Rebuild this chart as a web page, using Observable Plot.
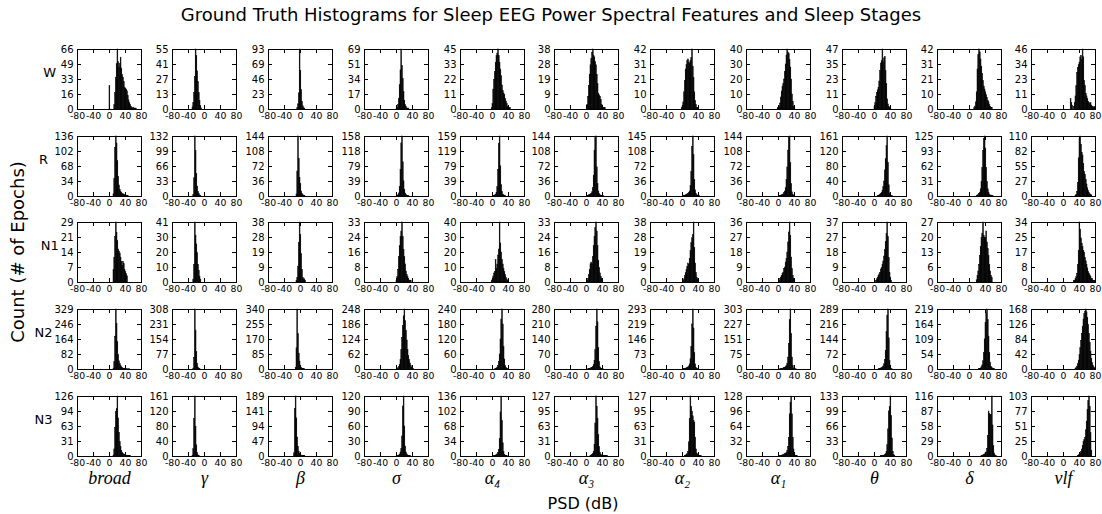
<!DOCTYPE html>
<html><head><meta charset="utf-8">
<script src="https://cdn.jsdelivr.net/npm/d3@7"></script>
<script src="https://cdn.jsdelivr.net/npm/@observablehq/plot@0.6"></script>
<style>
html,body{margin:0;padding:0;background:#fff;}
#chart{position:relative;width:1102px;height:514px;overflow:hidden;font-family:"DejaVu Sans",sans-serif;background:#fff;}
</style></head><body><div id="chart"></div>
<script>
// ---------- data ----------
const titleText = "Ground Truth Histograms for Sleep EEG Power Spectral Features and Sleep Stages";
const xLabel = "PSD (dB)";
const yLabel = "Count (# of Epochs)";
const stages = ["W", "R", "N1", "N2", "N3"];
const features = ["broad", "γ", "β", "σ", "α₄", "α₃", "α₂", "α₁", "θ", "δ", "vlf"];
const xTicks = [-80, -40, 0, 40, 80];
const binWidth = 2;

// peak counts (top y tick label) per feature
const maxW  = [66, 55, 93, 69, 45, 38, 42, 40, 47, 42, 46];
const maxR  = [136, 132, 144, 158, 159, 144, 145, 144, 161, 125, 110];
const maxN1 = [29, 41, 38, 33, 40, 33, 38, 36, 37, 27, 34];
const maxN2 = [329, 308, 340, 248, 240, 280, 293, 303, 289, 219, 168];
const maxN3 = [126, 161, 189, 120, 136, 127, 127, 128, 133, 116, 103];

// first bin edge (dB) per feature
const startW  = [0, -30, -8, 0, -2, 2, -2, -2, 0, 12, 18];
const startR  = [10, -28, -10, 2, 2, 2, 2, 2, 8, 18, 30];
const startN1 = [10, -28, -10, 0, -2, 2, 2, 2, 4, 18, 26];
const startN2 = [10, -28, -12, 2, 6, 4, 2, 4, 10, 24, 30];
const startN3 = [10, -30, -16, 4, 4, 10, 6, 4, 16, 30, 36];

// bin counts (2 dB bins) per feature
const countsW = [
  [26,0,0,0,0,0,5,18,35,50,66,52,46,50,57,45,38,35,30,24,23,22,20,15,10,7,5,3,2,1,2,1,1,1],
  [2,6,15,30,55,49,35,25,15,8,3,1],
  [2,8,25,93,60,30,12,5,2,1],
  [1,2,5,12,28,45,69,50,35,20,10,5,3,1,1,1],
  [1,4,15,22,28,35,40,42,45,40,35,30,25,18,14,12,11,8,6,4,2,1,1,1],
  [3,8,15,22,28,32,36,38,34,33,30,28,22,16,10,9,8,6,3,2,1,1,1],
  [1,2,5,12,20,28,31,34,35,33,32,34,36,42,30,22,12,6,3,1,1,1],
  [1,1,2,4,8,12,15,17,20,25,30,36,40,38,37,33,28,20,10,5,2,1],
  [2,5,10,13,15,17,22,30,36,38,47,37,40,41,30,20,8,4,2,1,1],
  [1,2,5,12,28,38,42,40,35,30,25,20,16,14,12,10,8,6,5,3,2,1,1],
  [8,5,3,0,2,5,10,18,28,32,34,36,40,41,38,46,40,22,18,12,10,8,6,5,4,5,3,2,2,1,2]
];
const countsR = [
  [5,40,110,136,120,80,45,25,15,10,8,6,5,4,3,2,2,1,1],
  [3,40,132,100,50,22,10,5,2,1],
  [5,60,144,90,45,30,12,6,3,2,1],
  [1,3,8,25,70,140,158,90,40,18,8,4,2,1,1],
  [1,2,3,5,10,25,70,140,159,80,30,12,5,3,2,1],
  [1,2,3,4,5,6,10,20,50,110,140,144,70,30,12,6,3,2,1,1,1],
  [1,1,2,3,4,5,6,8,12,25,60,120,145,100,40,15,6,3,2,1,1],
  [1,1,2,3,4,5,8,12,20,40,70,110,140,144,80,30,10,4,2,1],
  [1,2,3,5,7,10,15,25,40,70,100,135,161,90,30,8,3,1,1],
  [1,2,3,5,8,15,30,60,95,120,125,100,60,30,15,8,4,2,2,1,1],
  [1,3,8,25,70,105,110,95,80,75,60,45,40,30,22,15,10,6,4,3,2]
];
const countsN1 = [
  [6,12,22,29,24,20,16,15,14,12,10,8,10,9,6,5,4,3],
  [2,12,41,32,26,20,12,8,4,2],
  [1,3,10,25,38,30,18,8,3,2,2,1],
  [1,3,7,14,20,25,28,33,25,18,14,10,6,4,3,2,1,1,1],
  [1,2,4,6,7,15,9,12,18,22,40,26,20,15,12,9,7,5,3,2,1],
  [1,2,4,7,10,11,10,14,20,25,30,33,28,20,12,8,5,3,2,1],
  [1,2,4,6,8,10,12,11,15,20,25,28,30,38,22,12,6,3,2,1],
  [1,2,3,4,5,6,8,9,12,14,18,24,30,36,28,15,8,4,2,1],
  [1,2,3,4,5,6,8,9,11,13,16,20,25,30,37,28,15,6,3,1],
  [1,3,5,8,12,16,20,22,27,21,20,20,23,18,15,12,8,5,3,2],
  [1,1,2,3,5,10,18,34,30,25,22,20,18,17,14,12,10,8,6,5,4,3,2,2,1,1,1]
];
const countsN2 = [
  [5,40,180,329,250,150,80,45,30,20,12,8,5,4,3,2,2,1,1,1,1],
  [5,60,308,200,90,30,10,4,2],
  [10,120,340,200,90,45,20,10,5,3,2,1],
  [2,5,10,20,40,80,130,180,220,248,200,160,120,80,55,40,25,15,8,4,2],
  [1,2,4,8,15,30,60,120,200,240,180,90,40,15,6,2,1],
  [1,2,3,4,6,8,12,20,40,90,200,280,220,100,35,10,4,2,1,1],
  [1,2,3,4,6,8,10,15,25,50,110,220,293,200,80,25,8,3,1,1],
  [1,2,3,4,5,7,9,12,18,30,60,130,250,303,180,60,18,5,2,1,1],
  [1,2,3,5,7,10,15,25,45,90,180,260,289,150,40,10,3,1],
  [1,2,4,8,15,30,60,110,170,205,219,180,120,60,25,10,5,2,1,1],
  [2,4,8,15,25,40,60,80,100,120,140,155,162,168,160,145,125,100,75,50,30,18,10,6,3]
];
const countsN3 = [
  [2,15,60,94,100,126,80,50,30,20,12,8,5,4,3,2,2,1,1,1,1,1],
  [2,20,100,161,80,30,10,3,1],
  [10,150,189,120,60,30,15,8,5,3,2,1,1,1],
  [1,2,4,8,15,40,100,120,60,20,8,4,2,1,1,1],
  [1,1,2,3,5,8,15,40,100,136,80,30,10,4,2,1,1],
  [1,2,3,5,10,25,70,127,105,80,45,20,8,4,2,1,1,1,1,1,1,1],
  [1,2,3,5,10,30,80,127,105,95,85,75,72,40,15,6,3,2,1,1,1],
  [1,1,2,2,3,4,5,6,8,12,20,40,90,115,128,90,40,15,5,2,1,1],
  [1,1,1,1,2,3,5,10,25,60,100,110,133,90,40,10,3,1],
  [1,1,2,3,4,6,8,15,40,87,82,80,80,116,60,20,6,2,1],
  [1,2,3,5,8,12,18,25,28,32,45,60,80,95,103,85,40,10]
];

// ---------- layout ----------
const table = [
  {stage: stages[0], max: maxW,  start: startW,  counts: countsW},
  {stage: stages[1], max: maxR,  start: startR,  counts: countsR},
  {stage: stages[2], max: maxN1, start: startN1, counts: countsN1},
  {stage: stages[3], max: maxN2, start: startN2, counts: countsN2},
  {stage: stages[4], max: maxN3, start: startN3, counts: countsN3}
];

const chart = document.getElementById("chart");
const FW = 64, FH = 60, TICK = 4, MT = 6, MR = 12;
const colLeft = [77, 172, 268, 364, 460, 554, 650, 746, 842, 937, 1031];
const rowTop = [49, 136, 222, 309, 396];

table.forEach((row, r) => {
  features.forEach((feat, c) => {
    const m = row.max[c];
    const bins = row.counts[c].map((n, i) => ({
      x1: row.start[c] + i * binWidth,
      x2: row.start[c] + (i + 1) * binWidth,
      y: n
    })).filter(d => d.y > 0);
    const yTicks = [0, m / 4, m / 2, 3 * m / 4, m];
    const frameLeft = colLeft[c];
    const frameTop = rowTop[r];
    const ml = c === 0 ? 76 : 44;
    const mb = r === 4 ? 44 : 18;
    const marks = [
      Plot.rectY(bins, {x1: "x1", x2: "x2", y: "y", fill: "black", stroke: "black", strokeWidth: 0.5}),
      Plot.ruleX(xTicks, {insetTop: FH - TICK, stroke: "black"}),
      Plot.ruleX(xTicks, {insetBottom: FH - TICK, stroke: "black"}),
      Plot.ruleY(yTicks, {insetRight: FW - TICK, stroke: "black"}),
      Plot.ruleY(yTicks, {insetLeft: FW - TICK, stroke: "black"}),
      Plot.frame({stroke: "black"}),
      Plot.axisX({ticks: xTicks, tickSize: 0, tickPadding: 3, fontSize: 9.3, tickFormat: d => String(d), label: null}),
      Plot.axisY({ticks: yTicks, tickSize: 0, tickPadding: 4, fontSize: 10, tickFormat: d => String(Math.floor(d)), label: null})
    ];
    if (c === 0) {
      marks.push(Plot.text([row.stage], {
        text: d => d, frameAnchor: "left",
        dx: -(4 + String(m).length * 6.36 + 11), dy: -7,
        fontSize: 13, textAnchor: "middle"
      }));
    }
    if (r === 4) {
      marks.push(Plot.text([feat], {
        text: d => d, frameAnchor: "bottom", dy: 27,
        fontSize: 18, fontFamily: "Liberation Serif", fontStyle: "italic"
      }));
    }
    const svg = Plot.plot({
      width: ml + FW + MR,
      height: MT + FH + mb,
      marginLeft: ml, marginRight: MR, marginTop: MT, marginBottom: mb,
      x: {domain: [-80, 80]},
      y: {domain: [0, m]},
      marks
    });
    svg.style.position = "absolute";
    svg.style.left = (frameLeft - ml) + "px";
    svg.style.top = (frameTop - MT) + "px";
    svg.style.background = "transparent";
    svg.style.overflow = "visible";
    svg.style.fontFamily = "'DejaVu Sans', sans-serif";
    svg.style.fontSize = "10px";
    svg.style.color = "black";
    svg.style.maxWidth = "none";
    chart.appendChild(svg);
  });
});

// overall titles
const ov = d3.select(chart).append("svg")
  .attr("width", 1102).attr("height", 514)
  .style("position", "absolute").style("left", "0px").style("top", "0px")
  .style("pointer-events", "none")
  .style("font-family", "'DejaVu Sans', sans-serif");
ov.append("text").attr("x", 551).attr("y", 21).attr("text-anchor", "middle")
  .attr("font-size", 18).text(titleText);
ov.append("text").attr("x", 583).attr("y", 509).attr("text-anchor", "middle")
  .attr("font-size", 16).text(xLabel);
ov.append("text").attr("transform", "translate(24,252) rotate(-90)").attr("text-anchor", "middle")
  .attr("font-size", 18).text(yLabel);
</script></body></html>
